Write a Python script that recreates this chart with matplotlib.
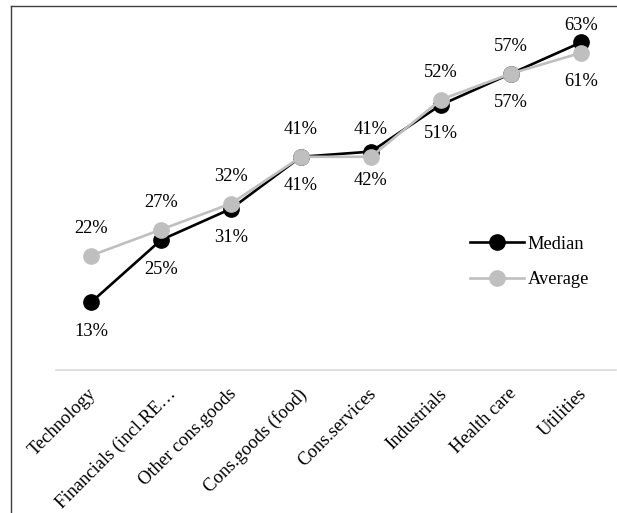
import matplotlib
matplotlib.use("Agg")
import matplotlib.pyplot as plt
from matplotlib.lines import Line2D
from matplotlib.transforms import ScaledTranslation

categories = ["Technology", "Financials (incl.RE…", "Other cons.goods", "Cons.goods (food)",
              "Cons.services", "Industrials", "Health care", "Utilities"]
median = [13, 25, 31, 41, 42, 51, 57, 63]
average = [22, 27, 32, 41, 41, 52, 57, 61]

plt.rcParams['font.family'] = ['Liberation Serif', 'DejaVu Serif']

W, H = 617, 513
fig = plt.figure(figsize=(W/100, H/100), dpi=100)
ax_left, ax_bottom, ax_w, ax_h = 56, 143, 560, 364
ax = fig.add_axes([ax_left/W, ax_bottom/H, ax_w/W, ax_h/H])
x = list(range(len(categories)))
ymax = 70

gray = "#BFBFBF"
ax.plot(x, median, color="black", lw=1.9, marker="o", ms=11, label="Median", zorder=3)
ax.plot(x, average, color=gray, lw=1.9, marker="o", ms=11, label="Average", zorder=4)

fs = 13.3
px = 0.72  # points per pixel at dpi 100
top_limit_px = 25  # label centers stay below this many pixels from figure top


def place(v, above):
    ypix = (H - ax_bottom) - v / ymax * ax_h
    if above:
        target = max(ypix - 27, top_limit_px)
    else:
        target = ypix + 29
    return (ypix - target) * px


for i in x:
    m, a = median[i], average[i]
    m_above = (m - a) >= 2
    ax.annotate(f"{m}%", (i, m), xytext=(0, place(m, m_above)), textcoords="offset points",
                ha="center", va="center", fontsize=fs)
    ax.annotate(f"{a}%", (i, a), xytext=(0, place(a, not m_above)), textcoords="offset points",
                ha="center", va="center", fontsize=fs)

ax.set_xlim(-0.5, len(categories) - 0.5)
ax.set_ylim(0, ymax)
ax.set_yticks([])
ax.set_xticks(x)
ax.set_xticklabels(categories, rotation=45, ha="right", rotation_mode="anchor", fontsize=fs)
ax.tick_params(axis="x", length=0, pad=11)
for lbl in ax.get_xticklabels():
    dx = 6 if lbl.get_text().endswith("…") else -3
    lbl.set_transform(lbl.get_transform() + ScaledTranslation(dx/100, 0, fig.dpi_scale_trans))
for s in ["top", "right", "left"]:
    ax.spines[s].set_visible(False)
ax.spines["bottom"].set_color("#D9D9D9")
ax.spines["bottom"].set_linewidth(1.2)
ax.patch.set_visible(False)

leg = ax.legend(loc="center left", bbox_to_anchor=((470-ax_left)/ax_w, ((H-ax_bottom)-262)/ax_h), frameon=False,
                fontsize=fs, handlelength=2.9, labelspacing=1.0, handletextpad=0.22,
                borderpad=0, borderaxespad=0)

# figure border (left and top visible)
fig.add_artist(Line2D([11/W, 11/W], [0, 507/H], transform=fig.transFigure, color="#404040", lw=1))
fig.add_artist(Line2D([11/W, 1], [507/H, 507/H], transform=fig.transFigure, color="#404040", lw=1))

fig.savefig("out.png", dpi=100)
